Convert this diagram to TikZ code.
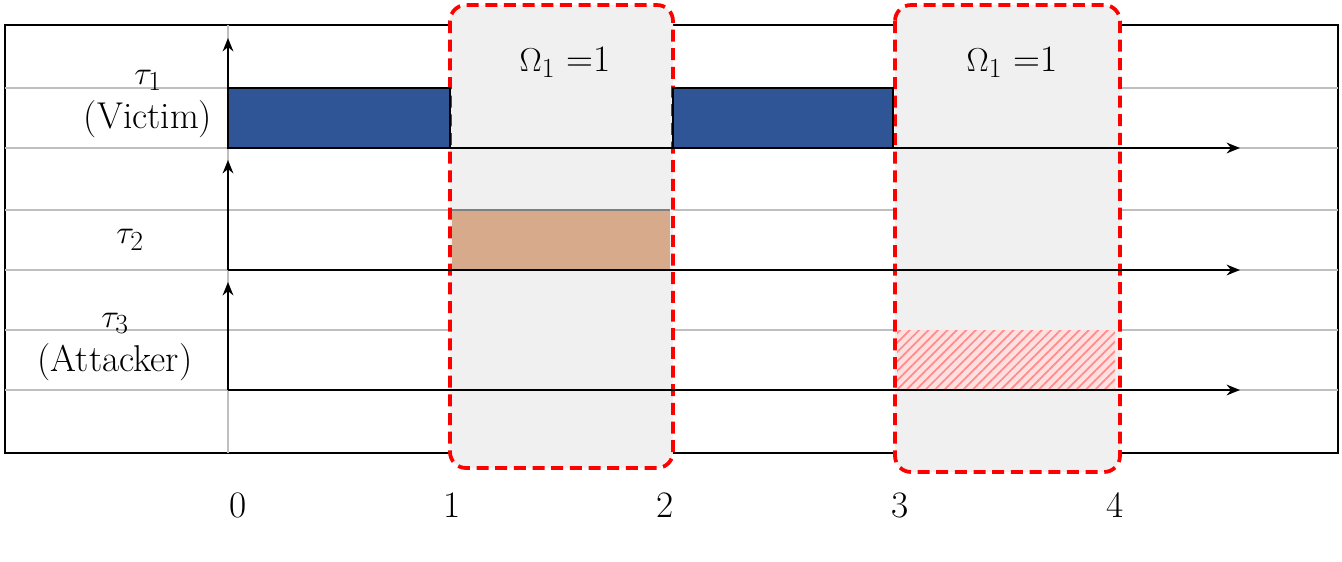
\documentclass[tikz,border=0pt]{standalone}
\usetikzlibrary{patterns,patterns.meta,arrows.meta}
\definecolor{bluebar}{HTML}{2F5597}
\definecolor{orangebar}{HTML}{D6AA8A}
\definecolor{boxgray}{HTML}{F0F0F0}
\definecolor{gridgray}{HTML}{BFBFBF}
\tikzset{
  grid line/.style={gridgray, line width=1.5pt},
  axis/.style={-{Stealth[length=10pt,width=8pt]}, line width=2pt},
  window/.style={draw=red, fill=boxgray, dashed, dash pattern=on 9pt off 5pt, line width=2.8pt, rounded corners=12pt},
  lbl/.style={font=\fontsize{28}{33}\selectfont, align=center},
}
\begin{document}
\begin{tikzpicture}[x=0.75pt,y=-0.75pt]
\useasboundingbox (0,0) rectangle (1342,561);
\draw[line width=1.2pt] (5,25) rectangle (1338,453);
\foreach \y in {88,148,210,270,330,390} \draw[grid line] (5,\y) -- (1338,\y);
\draw[grid line] (228,25) -- (228,453);
% windows
\draw[window] (450,5) rectangle (673,468);
\draw[window] (895,5) rectangle (1120,472);
% bars
\draw[fill=bluebar, line width=1.5pt] (228,88) rectangle (450,148);
\draw[fill=bluebar, line width=1.5pt] (673,88) rectangle (893,148);
\fill[orangebar] (452,210) rectangle (670,270);
\draw[gray, line width=1.2pt] (452,210) -- (670,210);
\fill[red!12] (897,330) rectangle (1115,390);
\fill[pattern={Lines[angle=45,distance=5pt,line width=1.3pt]}, pattern color=red!45] (897,330) rectangle (1115,390);
% axes
\coordinate (a1) at (228,148); \coordinate (a1t) at (228,38); \coordinate (a1r) at (1240,148);
\coordinate (a2) at (228,270); \coordinate (a2t) at (228,160); \coordinate (a2r) at (1240,270);
\coordinate (a3) at (228,390); \coordinate (a3t) at (228,282); \coordinate (a3r) at (1240,390);
\foreach \a in {a1,a2,a3} {\draw[axis] (\a) -- (\a t); \draw[axis] (\a) -- (\a r);}
% labels
\node[lbl] (w1) at (565,62) {$\Omega_1$ =1};
\node[lbl] (w2) at (1012,62) {$\Omega_1$ =1};
\node[lbl] (t1) at (148,104) {$\tau_1$\\(Victim)};
\node[lbl] (t2) at (130,240) {$\tau_2$};
\node[lbl] (t3) at (115,347) {$\tau_3$\\(Attacker)};
\foreach \x/\t in {238/0,452/1,665/2,900/3,1115/4} \node[lbl] (n\t) at (\x,505) {\t};
\end{tikzpicture}
\end{document}
